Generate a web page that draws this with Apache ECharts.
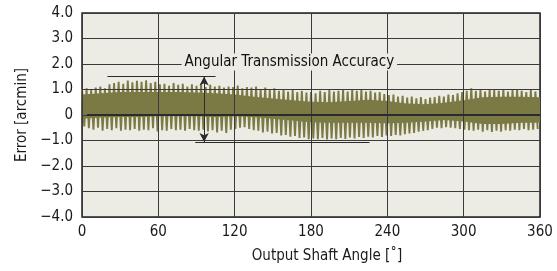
<!DOCTYPE html>
<html>
<head>
<meta charset="utf-8">
<script src="https://cdn.jsdelivr.net/npm/echarts@6/dist/echarts.min.js"></script>
<style>
  html, body { margin: 0; padding: 0; background: #fff; }
  #chart { width: 557px; height: 271px; }
</style>
</head>
<body>
<div id="chart"></div>
<script>
// angle step between successive error peaks (deg)
var cycleStep = 3.6;

// peak values of each error cycle (arcmin)
var peaks = [
  1.02, 1.05, 0.98, 1.08, 1.12, 1.05, 1.20, 1.25, 1.30, 1.22,
  1.35, 1.28, 1.34, 1.30, 1.36, 1.25, 1.30, 1.20, 1.22, 1.15,
  1.25, 1.18, 1.22, 1.12, 1.20, 1.15, 1.22, 1.10, 1.18, 1.12,
  1.15, 1.08, 1.12, 1.10, 1.15, 1.05, 1.10, 1.08, 1.12, 1.02,
  1.08, 1.00, 1.05, 0.95, 1.00, 0.92, 0.98, 0.90, 0.95, 0.88,
  0.90, 0.85, 0.95, 0.90, 0.98, 0.92, 0.95, 1.00, 0.92, 0.98,
  0.95, 1.00, 0.92, 0.95, 0.88, 0.90, 0.82, 0.78, 0.80, 0.72,
  0.75, 0.68, 0.72, 0.65, 0.70, 0.62, 0.68, 0.70, 0.75, 0.72,
  0.80, 0.78, 0.85, 0.90, 0.95, 1.05, 0.95, 1.00, 0.92, 1.02,
  0.98, 0.95, 1.02, 0.92, 0.98, 1.00, 0.95, 0.90, 0.98, 0.92
];

// trough values of each error cycle (arcmin)
var troughs = [
  -0.45, -0.52, -0.58, -0.50, -0.62, -0.55, -0.60, -0.52, -0.62, -0.58,
  -0.60, -0.55, -0.62, -0.58, -0.60, -0.52, -0.65, -0.60, -0.62, -0.55,
  -0.60, -0.58, -0.62, -0.55, -0.60, -0.62, -0.58, -0.65, -0.60, -0.68,
  -0.62, -0.70, -0.58, -0.55, -0.50, -0.48, -0.55, -0.60, -0.62, -0.68,
  -0.65, -0.72, -0.70, -0.80, -0.78, -0.85, -0.82, -0.90, -0.88, -0.95,
  -0.92, -0.95, -0.90, -0.96, -0.92, -0.95, -0.90, -0.94, -0.88, -0.92,
  -0.86, -0.90, -0.85, -0.88, -0.82, -0.86, -0.80, -0.82, -0.78, -0.80,
  -0.75, -0.72, -0.70, -0.65, -0.62, -0.60, -0.55, -0.50, -0.52, -0.48,
  -0.50, -0.52, -0.55, -0.58, -0.60, -0.62, -0.58, -0.65, -0.60, -0.66,
  -0.62, -0.65, -0.60, -0.62, -0.58, -0.60, -0.55, -0.60, -0.58, -0.55
];

// dense core of the error band
var bodyAngles = [0, 15, 30, 45, 60, 75, 90, 105, 120, 135, 150, 165, 180,
                  195, 210, 225, 240, 255, 270, 285, 300, 315, 330, 345, 360];
var bodyTop = [0.80, 0.85, 0.90, 0.90, 0.90, 0.90, 0.88, 0.85, 0.80, 0.72, 0.65, 0.58, 0.52,
               0.50, 0.55, 0.60, 0.55, 0.45, 0.42, 0.48, 0.58, 0.70, 0.72, 0.72, 0.70];
var bodyBottom = [-0.15, -0.10, -0.08, -0.08, -0.05, -0.05, -0.05, -0.08, -0.05, -0.08, -0.15, -0.22, -0.28,
                  -0.30, -0.30, -0.30, -0.32, -0.30, -0.25, -0.20, -0.25, -0.35, -0.35, -0.30, -0.30];

// annotation: accuracy span
var spanTop = 1.51, spanBottom = -1.06;
var spanTopFrom = 20, spanTopTo = 105;
var spanBottomFrom = 89, spanBottomTo = 226;
var arrowAngle = 96;
var labelAngle = 163, labelValue = 2.08;
var labelText = 'Angular Transmission Accuracy';
var zeroFrom = 4;

var olive = '#7b7a45';
var ink = '#2b2b2b';
var paper = '#ecebe4';
var font = '"DejaVu Sans Condensed", "DejaVu Sans", sans-serif';

var wave = [];
for (var i = 0; i < peaks.length; i++) {
  wave.push([i * cycleStep, peaks[i]]);
  wave.push([i * cycleStep + cycleStep / 2, troughs[i]]);
}

var chart = echarts.init(document.getElementById('chart'));
chart.setOption({
  animation: false,
  grid: {
    left: 82, right: 17, top: 13, bottom: 54,
    show: true, backgroundColor: paper, borderColor: '#222', borderWidth: 1.5
  },
  xAxis: {
    type: 'value', min: 0, max: 360, interval: 60, z: 5,
    name: 'Output Shaft Angle [\u02da]', nameLocation: 'middle', nameGap: 32,
    nameTextStyle: { fontFamily: font, fontSize: 15, color: '#1a1a1a', padding: [0, 0, 0, 32] },
    axisLine: { show: false }, axisTick: { show: false },
    axisLabel: { fontFamily: font, fontSize: 15, color: '#1a1a1a', margin: 8 },
    splitLine: { lineStyle: { color: '#3a3a3a', width: 1 } }
  },
  yAxis: {
    type: 'value', min: -4, max: 4, interval: 1, z: 5,
    name: 'Error [arcmin]', nameLocation: 'middle', nameGap: 50,
    nameTextStyle: { fontFamily: font, fontSize: 15, color: '#1a1a1a' },
    axisLine: { show: false }, axisTick: { show: false },
    axisLabel: {
      fontFamily: font, fontSize: 15, color: '#1a1a1a', margin: 9,
      formatter: function (v) {
        if (v === 0) return '0';
        return (v < 0 ? '\u2212' : '') + Math.abs(v).toFixed(1);
      }
    },
    splitLine: { lineStyle: { color: '#3a3a3a', width: 1 } }
  },
  series: [
    {
      // dense core of the band, drawn as one polygon through the axis scales
      type: 'custom', z: 1, silent: true,
      data: [0],
      renderItem: function (params, api) {
        var pts = [];
        for (var k = 0; k < bodyAngles.length; k++) pts.push(api.coord([bodyAngles[k], bodyTop[k]]));
        for (var k2 = bodyAngles.length - 1; k2 >= 0; k2--) pts.push(api.coord([bodyAngles[k2], bodyBottom[k2]]));
        return { type: 'polygon', shape: { points: pts }, style: { fill: olive } };
      }
    },
    {
      type: 'line', symbol: 'none', z: 2,
      lineStyle: { color: olive, width: 1.9 },
      data: wave,
      markLine: {
        silent: true, symbol: 'none', label: { show: false },
        lineStyle: { color: ink, type: 'solid', width: 1 },
        data: [
          [{ coord: [zeroFrom, 0], lineStyle: { width: 2 } }, { coord: [360, 0] }],
          [{ coord: [spanTopFrom, spanTop] }, { coord: [spanTopTo, spanTop] }],
          [{ coord: [spanBottomFrom, spanBottom] }, { coord: [spanBottomTo, spanBottom] }],
          [{ coord: [arrowAngle, spanTop], symbol: 'arrow', symbolSize: [7, 9] },
           { coord: [arrowAngle, spanBottom], symbol: 'arrow', symbolSize: [7, 9] }]
        ]
      }
    },
    {
      type: 'scatter', z: 10, silent: true,
      symbolSize: 1,
      itemStyle: { color: 'transparent', opacity: 1 },
      label: {
        show: true, position: 'inside', formatter: labelText,
        fontFamily: font, fontSize: 15, color: '#111', opacity: 1,
        textBorderWidth: 0,
        backgroundColor: paper, padding: [1, 3]
      },
      data: [[labelAngle, labelValue]]
    }
  ]
});
</script>
</body>
</html>
